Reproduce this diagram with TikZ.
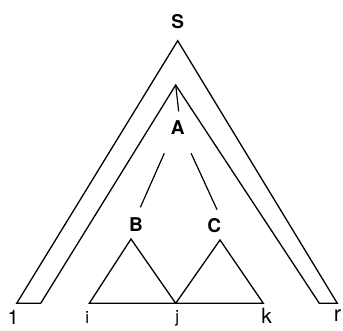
\documentclass[tikz,border=0pt]{standalone}
\usepackage{fontspec}
\setmainfont{TeX Gyre Heros}
\usetikzlibrary{positioning}

\begin{document}
\begin{tikzpicture}[x=1pt, y=-1pt, line width=1.3pt,
    sym/.style={font=\fontsize{19}{21}\selectfont\bfseries, anchor=base, inner sep=0pt},
    idx/.style={font=\fontsize{19}{21}\selectfont, anchor=base, inner sep=0pt},
    edge/.style={line width=1.2pt}]

    \useasboundingbox (0,0) rectangle (343,331);

    % === corners of the wedges and subtrees
    \coordinate (top)   at (177.7, 40.7);
    \coordinate (outL)  at (16.7, 303.3);
    \coordinate (outR)  at (337.3, 303.3);
    \coordinate (inTop) at (175.7, 85);
    \coordinate (inL)   at (40.7, 303.3);
    \coordinate (inR)   at (319.3, 303.3);
    \coordinate (Btop)  at (131, 239);
    \coordinate (Ctop)  at (220, 240);
    \coordinate (pi)    at (89.3, 303.3);
    \coordinate (pj)    at (175.7, 303.3);
    \coordinate (pk)    at (263.3, 303.3);

    % === symbols
    \node[sym] (S) at (177.7, 28.3) {S};
    \node[sym] (A) at (177.7, 135)  {A};
    \node[sym] (B) at (136, 231.7)  {B};
    \node[sym] (C) at (214.3, 233)  {C};

    % === positions
    \node[idx, font=\fontsize{20}{22}\selectfont] (one) at (13.3, 325) {1};
    \node[idx, font=\fontsize{17}{19}\selectfont] (i)   at (87.3, 323.3) {i};
    \node[idx, font=\fontsize{17}{19}\selectfont] (j)   at (177.3, 323) {j};
    \node[idx, font=\fontsize{21}{23}\selectfont] (k)   at (266.7, 323.3) {k};
    \node[idx, font=\fontsize{22}{24}\selectfont] (r)   at (337.5, 321.7) {r};

    % outer wedge: S over 1..r, with the hole for A
    \draw (outL) -- (top) -- (outR) -- (inR) -- (inTop) -- (inL) -- cycle;

    % A and its two children
    \draw[edge, shorten >=9.2pt] (inTop) -- ([xshift=2pt]A.north);
    \draw[edge, shorten <=19.3pt, shorten >=10.7pt] ([xshift=-5.6pt]A.south) -- (B.north);
    \draw[edge, shorten <=19.4pt, shorten >=9.6pt] ([xshift=5.3pt]A.south) -- ([xshift=6.7pt]C.north);

    % subtrees of B and C
    \draw (pj) -- (Btop) -- (pi) -- (pk) -- (Ctop) -- (pj);

\end{tikzpicture}
\end{document}
